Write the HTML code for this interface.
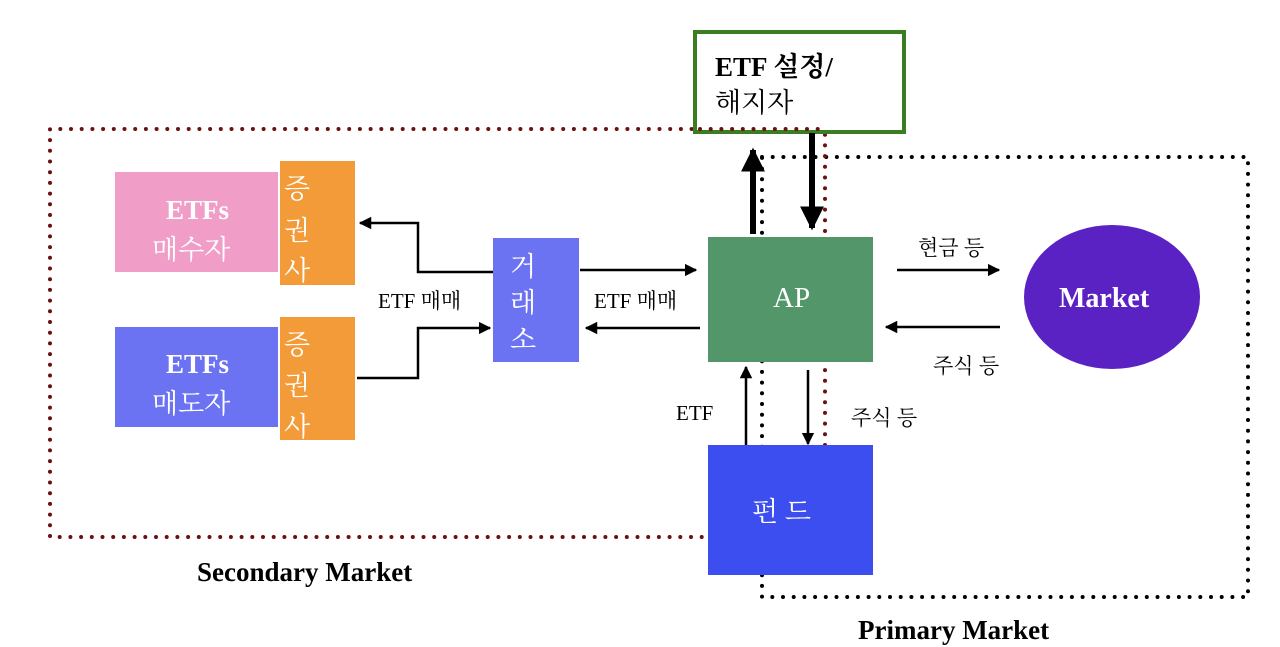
<!DOCTYPE html>
<html><head><meta charset="utf-8"><style>
html,body{margin:0;padding:0;background:#fff;width:1280px;height:647px;overflow:hidden}
svg{display:block}
text{font-family:"Liberation Serif","Noto Serif CJK SC","Noto Sans CJK KR",serif}
</style></head><body>
<svg width="1280" height="647" viewBox="0 0 1280 647" xmlns="http://www.w3.org/2000/svg">
<defs>
<marker id="a" viewBox="0 0 10 10" refX="9" refY="5" markerWidth="5" markerHeight="5" orient="auto"><path d="M0,0L10,5L0,10z" fill="#000"/></marker>
<marker id="b" viewBox="0 0 10 10" refX="9" refY="5" markerWidth="4" markerHeight="4" orient="auto"><path d="M0,0L10,5L0,10z" fill="#000"/></marker>
</defs>
<!-- primary market dotted -->
<path d="M762,157H1248V597H762V157" fill="none" stroke="#000" stroke-width="4" stroke-dasharray="0 10.7" stroke-linecap="round"/>
<!-- secondary market dotted -->
<path d="M825,445V129H50V537H708" fill="none" stroke="#6b0f0f" stroke-width="4" stroke-dasharray="0 10.7" stroke-linecap="round"/>
<!-- green box -->
<rect x="695" y="32" width="209" height="100" fill="#fff" stroke="#3a7d23" stroke-width="4"/>
<path d="M700,129H825" stroke="#6b0f0f" stroke-width="4" stroke-dasharray="0 10.7" stroke-linecap="round"/>
<text x="715" y="76" font-size="27" font-weight="bold" fill="#000">ETF 설정/</text>
<text x="715" y="112" font-size="27" fill="#000">해지자</text>
<!-- boxes -->
<rect x="115" y="172" width="163" height="100" fill="#f09ec8"/>
<rect x="280" y="161" width="75" height="124" fill="#f29b38"/>
<rect x="115" y="327" width="163" height="100" fill="#6b73f2"/>
<rect x="280" y="317" width="75" height="123" fill="#f29b38"/>
<rect x="493" y="238" width="86" height="124" fill="#6b73f2"/>
<rect x="708" y="237" width="165" height="125" fill="#52966a"/>
<rect x="708" y="445" width="165" height="130" fill="#3d4ef0"/>
<ellipse cx="1112" cy="297" rx="88" ry="72" fill="#5a22c2"/>
<!-- box text -->
<g fill="#fff" font-size="27">
<text x="166" y="219" font-weight="bold">ETFs</text>
<text x="152" y="259">매수자</text>
<text x="166" y="373" font-weight="bold">ETFs</text>
<text x="152" y="413">매도자</text>
<text x="284" y="198">증</text><text x="284" y="240">권</text><text x="284" y="280">사</text>
<text x="284" y="354">증</text><text x="284" y="395">권</text><text x="284" y="436">사</text>
<text x="510" y="276">거</text><text x="510" y="312">래</text><text x="510" y="349">소</text>
<text x="773" y="307" font-size="29">AP</text>
<text x="1059" y="307" font-size="28" font-weight="bold">Market</text>
<text x="752" y="521">펀  드</text>
</g>
<!-- connectors -->
<g fill="none" stroke="#000" stroke-width="2.5">
<path d="M493,272H418V223H360" marker-end="url(#a)"/>
<path d="M357,378H418V328H490" marker-end="url(#a)"/>
<path d="M580,270H696" marker-end="url(#a)"/>
<path d="M700,328H586" marker-end="url(#a)"/>
<path d="M897,270H999" marker-end="url(#a)"/>
<path d="M1000,327H886" marker-end="url(#a)"/>
<path d="M746,445V367" marker-end="url(#a)"/>
<path d="M808,370V444" marker-end="url(#a)"/>
<path d="M753,234V150" stroke-width="6" marker-end="url(#b)"/>
<path d="M812,133V228" stroke-width="6" marker-end="url(#b)"/>
</g>
<!-- labels -->
<g fill="#000" font-size="21">
<text x="378" y="308">ETF 매매</text>
<text x="594" y="308">ETF 매매</text>
<text x="918" y="255">현금 등</text>
<text x="933" y="373">주식 등</text>
<text x="676" y="420">ETF</text>
<text x="851" y="425">주식 등</text>
</g>
<text x="197" y="581" font-size="27" font-weight="bold" fill="#000">Secondary Market</text>
<text x="858" y="639" font-size="27" font-weight="bold" fill="#000">Primary Market</text>
</svg>
</body></html>
